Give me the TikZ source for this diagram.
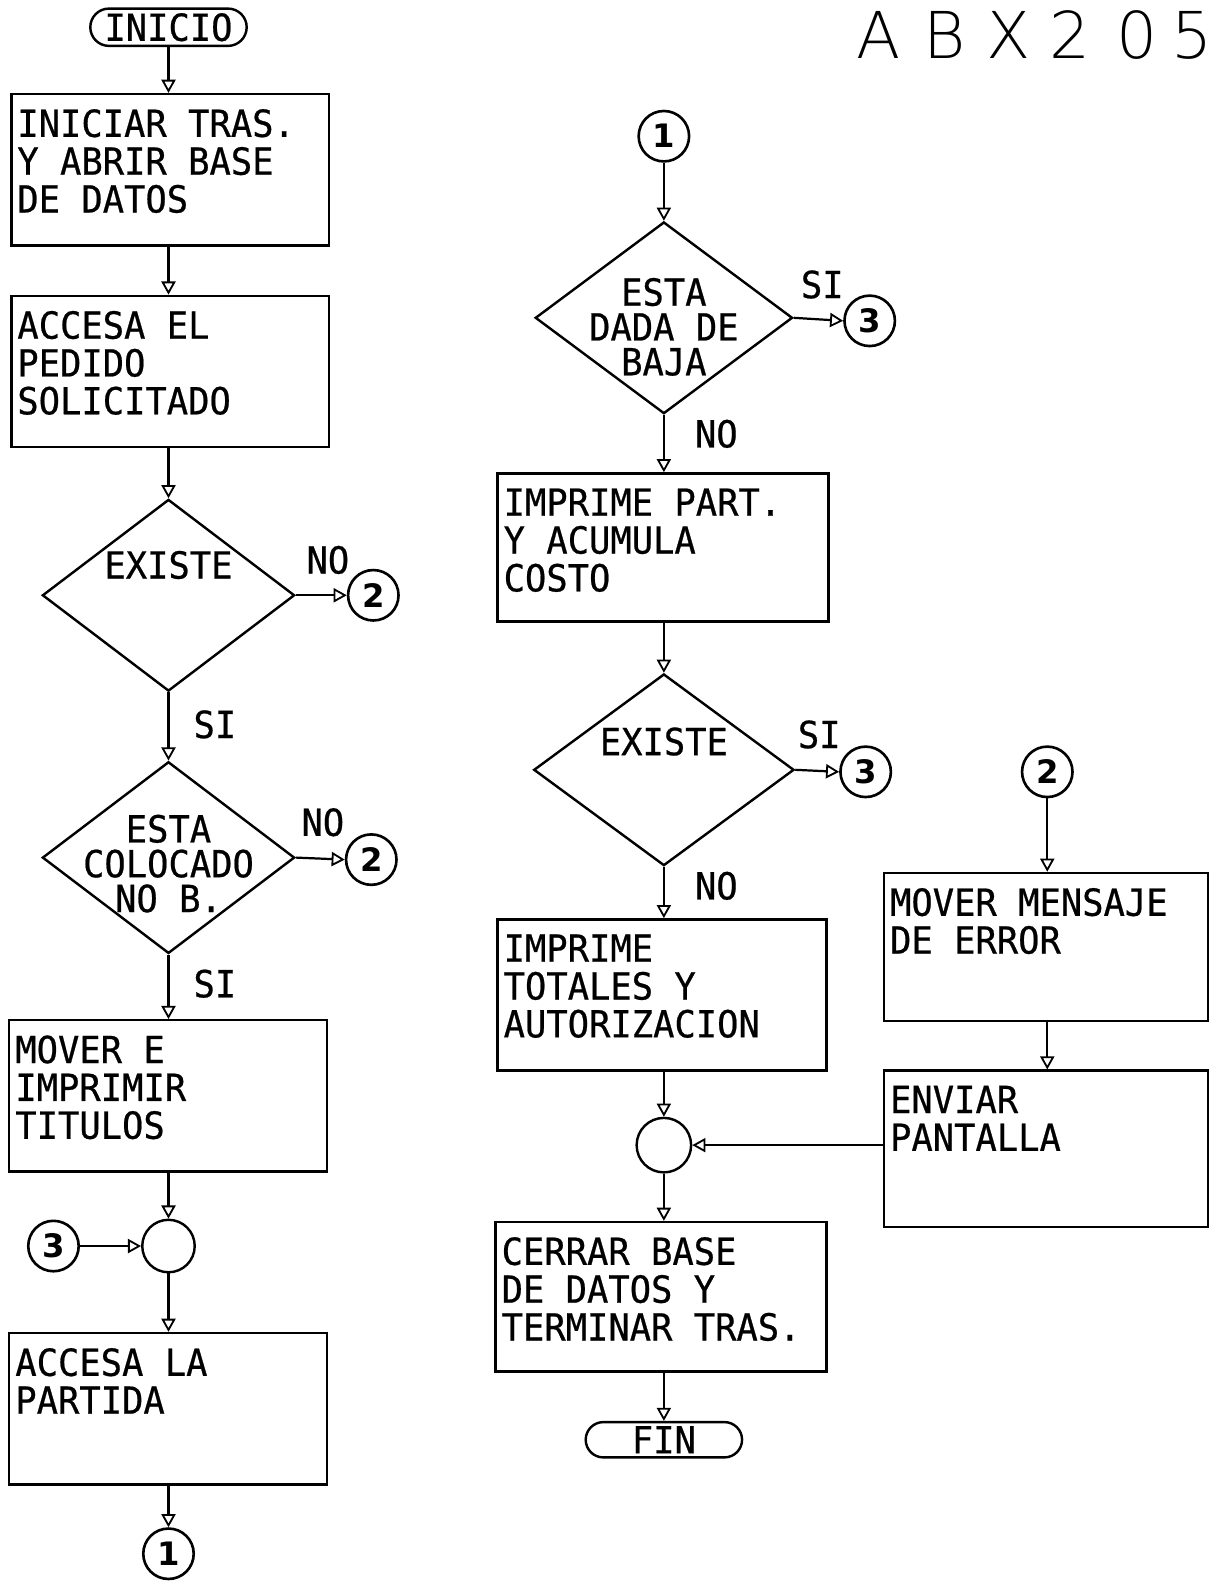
\documentclass[tikz,border=0pt]{standalone}
\usepackage{fontspec}
\setmainfont{DejaVu Sans}
\newfontfamily\flowfont{DejaVu Sans Mono}[FakeStretch=0.95,FakeBold=0.6]
\newfontfamily\thinfont{DejaVu Sans ExtraLight}
\usetikzlibrary{shapes.geometric,shapes.misc,arrows.meta}
\begin{document}
\begin{tikzpicture}[x=1pt,y=-1pt,
  every node/.style={font=\flowfont\fontsize{37}{37.5}\selectfont},
  arr/.style={line width=2.2pt,-{Triangle[open,length=13pt,width=14pt,line width=1.8pt]}},
  box/.style={draw,line width=2.4pt,rectangle,anchor=north west,inner xsep=6pt,inner ysep=15pt,align=left},
  dia/.style={draw,diamond,aspect=1.32,line width=2.4pt,inner sep=0pt,minimum width=250pt,minimum height=190pt},
  conn/.style={draw,circle,line width=2.6pt,minimum size=50pt,inner sep=0pt,font=\rmfamily\bfseries\fontsize{32}{32}\selectfont},
  junc/.style={draw,circle,line width=2.4pt,minimum size=52pt,inner sep=0pt},
  term/.style={draw,rounded rectangle,line width=2.4pt,minimum width=155pt,minimum height=37pt,inner sep=0pt},
  lab/.style={inner sep=0pt,align=center},
  dtext/.style={inner sep=0pt,align=center,font=\flowfont\fontsize{37}{34.5}\selectfont}
]
\useasboundingbox (0,0) rectangle (1200,1568);
\begin{scope}
\clip (0,0) rectangle (1200,1568);
\node[anchor=base west,inner sep=0pt,font=\thinfont\fontsize{64}{64}\selectfont] (title) at (849,58) {A\kern22pt B\kern21pt X\kern19pt 2\kern25pt 0\kern14pt 5};
\end{scope}

% left column
\node[term] (ini) at (167,27) {INICIO};
\node[box] (b1) at (10,92) {\parbox[t][120pt][t]{303pt}{INICIAR TRAS.\\Y ABRIR BASE\\DE DATOS}};
\node[box] (b2) at (10,292) {\parbox[t][120pt][t]{303pt}{ACCESA EL\\PEDIDO\\SOLICITADO}};
\node[dia] (d1) at (167,590) {};
\node[lab] (t1) at (167,560) {EXISTE};
\node[conn] (c2a) at (370,590) {2};
\node[lab] (l1) at (325,555) {NO};
\node[lab] (l2) at (213,718) {SI};
\node[dia] (d2) at (167,850) {};
\node[dtext] (t3) at (167,856) {ESTA\\COLOCADO\\NO B.};
\node[conn] (c2b) at (368,852) {2};
\node[lab] (l3) at (320,815) {NO};
\node[lab] (l4) at (213,975) {SI};
\node[box] (b3) at (8,1010) {\parbox[t][120pt][t]{303pt}{MOVER E\\IMPRIMIR\\TITULOS}};
\node[junc] (j1) at (167,1235) {};
\node[conn] (c3a) at (53,1235) {3};
\node[box] (b4) at (8,1320) {\parbox[t][120pt][t]{303pt}{ACCESA LA\\PARTIDA}};
\node[conn] (c1a) at (167,1540) {1};

% right column
\node[conn] (c1b) at (658,135) {1};
\node[dia,minimum width=255pt] (d3) at (658,315) {};
\node[dtext] (t4) at (658,324) {ESTA\\DADA DE\\BAJA};
\node[conn] (c3b) at (862,318) {3};
\node[lab] (l5) at (815,282) {SI};
\node[lab] (l6) at (710,430) {NO};
\node[box] (b5) at (492,468) {\parbox[t][117pt][t]{316pt}{IMPRIME PART.\\Y ACUMULA\\COSTO}};
\node[dia,minimum width=258pt] (d4) at (658,763) {};
\node[lab] (t2) at (658,735) {EXISTE};
\node[conn] (c3c) at (858,765) {3};
\node[lab] (l7) at (812,728) {SI};
\node[lab] (l8) at (710,878) {NO};
\node[box] (b6) at (492,910) {\parbox[t][120pt][t]{314pt}{IMPRIME\\TOTALES Y\\AUTORIZACION}};
\node[junc,minimum size=54pt] (j2) at (658,1135) {};
\node[box] (b7) at (490,1210) {\parbox[t][118pt][t]{316pt}{CERRAR BASE\\DE DATOS Y\\TERMINAR TRAS.}};
\node[term,minimum height=35pt] (fin) at (658,1427) {FIN};

% far right
\node[conn] (c2c) at (1038,765) {2};
\node[box] (b8) at (875,864) {\parbox[t][117pt][t]{309pt}{MOVER MENSAJE\\DE ERROR}};
\node[box] (b9) at (875,1060) {\parbox[t][125pt][t]{309pt}{ENVIAR\\PANTALLA}};

% connectors
\draw[arr] (ini.south) -- (ini.south |- b1.north);
\draw[arr] (ini.south |- b1.south) -- (ini.south |- b2.north);
\draw[arr] (d1.north |- b2.south) -- (d1.north);
\draw[arr] (d1.east) -- (c2a.west);
\draw[arr] (d1.south) -- (d2.north);
\draw[arr] (d2.east) -- (c2b.west);
\draw[arr] (d2.south) -- (d2.south |- b3.north);
\draw[arr] (j1.north |- b3.south) -- (j1.north);
\draw[arr] (c3a.east) -- (j1.west);
\draw[arr] (j1.south) -- (j1.south |- b4.north);
\draw[arr] (c1a.north |- b4.south) -- (c1a.north);

\draw[arr] (c1b.south) -- (d3.north);
\draw[arr] (d3.east) -- (c3b.west);
\draw[arr] (d3.south) -- (d3.south |- b5.north);
\draw[arr] (d4.north |- b5.south) -- (d4.north);
\draw[arr] (d4.east) -- (c3c.west);
\draw[arr] (d4.south) -- (d4.south |- b6.north);
\draw[arr] (j2.north |- b6.south) -- (j2.north);
\draw[arr] (j2.south) -- (j2.south |- b7.north);
\draw[arr] (fin.north |- b7.south) -- (fin.north);

\draw[arr] (c2c.south) -- (c2c.south |- b8.north);
\draw[arr] (c2c.south |- b8.south) -- (c2c.south |- b9.north);
\draw[arr] (j2.east -| b9.west) -- (j2.east);
\end{tikzpicture}
\end{document}
